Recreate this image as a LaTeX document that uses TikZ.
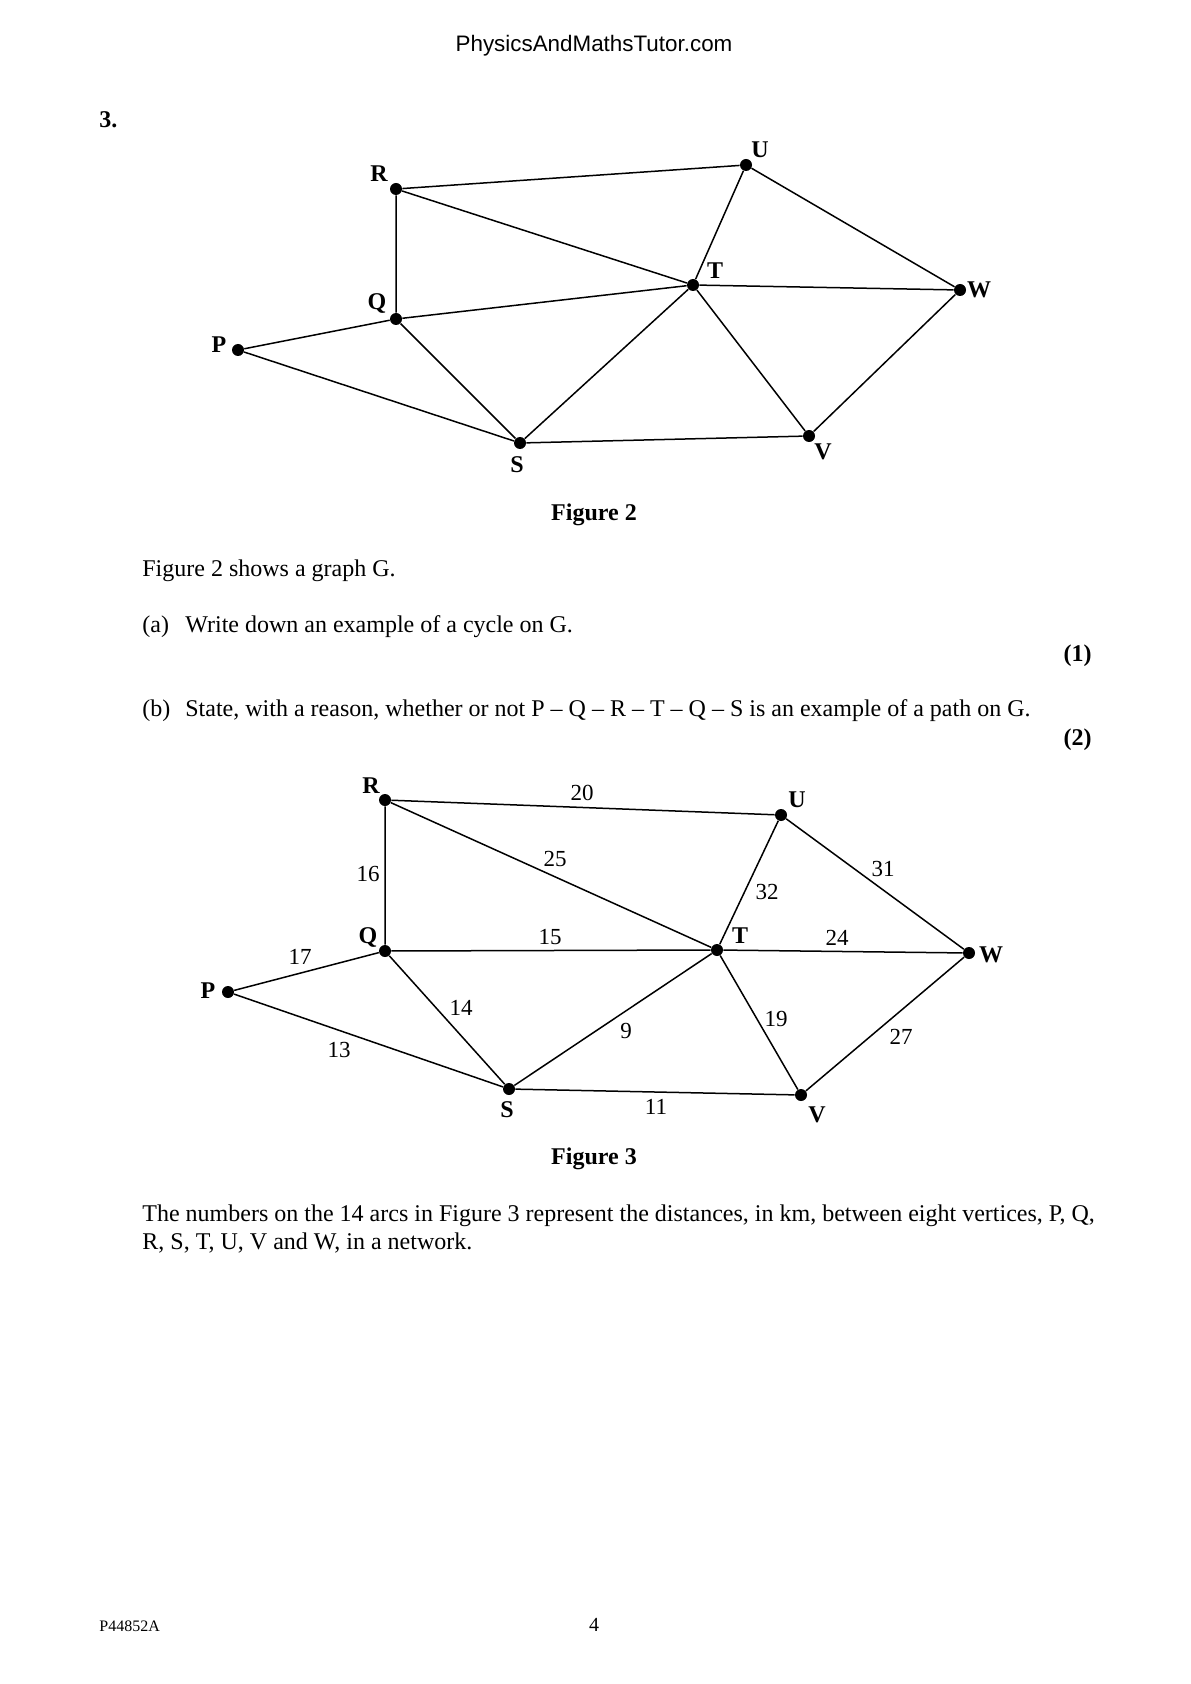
\documentclass[tikz,border=0pt]{standalone}
\usepackage{fontspec}
\setmainfont{Liberation Serif}
\newfontfamily\hdrfont{Liberation Sans}
\begin{document}
\begin{tikzpicture}[x=0.5pt,y=-0.5pt,
  dot/.style={circle,fill=black,inner sep=0pt,minimum size=6pt},
  edge/.style={line width=0.75pt},
  vlab/.style={font=\bfseries\fontsize{12}{14}\selectfont,inner sep=0pt},
  wlab/.style={font=\fontsize{11.5}{14}\selectfont,inner sep=0pt},
  txt/.style={font=\fontsize{12}{14}\selectfont,inner sep=0pt,anchor=base west},
  rtxt/.style={font=\bfseries\fontsize{12}{14}\selectfont,inner sep=0pt,anchor=base east},
  figcap/.style={font=\bfseries\fontsize{12}{14}\selectfont,inner sep=0pt,anchor=base}]
\useasboundingbox[fill=white] (0,0) rectangle (1190,1684);
% header
\node[font=\hdrfont\fontsize{11.2}{14}\selectfont,inner sep=0pt,anchor=base] (hdr) at (594,52) {PhysicsAndMathsTutor.com};
\node[font=\bfseries\fontsize{12}{14}\selectfont,inner sep=0pt,anchor=base west] (qn) at (99,128) {3.};
% Figure 2
\node[dot] (aR) at (396,189) {};
\node[dot] (aU) at (746,165) {};
\node[dot] (aT) at (693,285) {};
\node[dot] (aW) at (960,290) {};
\node[dot] (aQ) at (396,319) {};
\node[dot] (aP) at (238,350) {};
\node[dot] (aS) at (520,443) {};
\node[dot] (aV) at (809,436) {};
\draw[edge] (aR) -- (aU) (aR) -- (aT) (aR) -- (aQ) (aU) -- (aT) (aU) -- (aW)
  (aT) -- (aW) (aQ) -- (aT) (aP) -- (aQ) (aP) -- (aS) (aQ) -- (aS)
  (aS) -- (aT) (aT) -- (aV) (aS) -- (aV) (aV) -- (aW);
\node[vlab] (laR) at (379,174) {R};
\node[vlab] (laU) at (760,150) {U};
\node[vlab] (laT) at (715,271) {T};
\node[vlab] (laW) at (979,290) {W};
\node[vlab] (laQ) at (377,304) {Q};
\node[vlab] (laP) at (219,345) {P};
\node[vlab] (laS) at (517,465) {S};
\node[vlab] (laV) at (823,452) {V};
\node[figcap] (cap2) at (594,520) {Figure 2};
% text
\node[txt] (t1) at (142,576) {Figure 2 shows a graph G.};
\node[txt] (t2) at (142,632) {(a)};
\node[txt] (t2b) at (185,632) {Write down an example of a cycle on G.};
\node[rtxt] (m1) at (1092,661) {(1)};
\node[txt] (t3) at (142,716) {(b)};
\node[txt] (t3b) at (185,716) {State, with a reason, whether or not P -- Q -- R -- T -- Q -- S is an example of a path on G.};
\node[rtxt] (m2) at (1092,745) {(2)};
% Figure 3
\node[dot] (bR) at (385,800) {};
\node[dot] (bU) at (781,815) {};
\node[dot] (bT) at (717,950) {};
\node[dot] (bW) at (969,953) {};
\node[dot] (bQ) at (385,951) {};
\node[dot] (bP) at (228,992) {};
\node[dot] (bS) at (509,1089) {};
\node[dot] (bV) at (801,1095) {};
\draw[edge] (bR) -- (bU) (bR) -- (bT) (bR) -- (bQ) (bU) -- (bT) (bU) -- (bW)
  (bT) -- (bW) (bQ) -- (bT) (bP) -- (bQ) (bP) -- (bS) (bQ) -- (bS)
  (bS) -- (bT) (bT) -- (bV) (bS) -- (bV) (bV) -- (bW);
\node[vlab] (lbR) at (371,786) {R};
\node[vlab] (lbU) at (797,800) {U};
\node[vlab] (lbT) at (740,936) {T};
\node[vlab] (lbW) at (991,955) {W};
\node[vlab] (lbQ) at (368,937) {Q};
\node[vlab] (lbP) at (208,991) {P};
\node[vlab] (lbS) at (507,1110) {S};
\node[vlab] (lbV) at (817,1115) {V};
\node[wlab] (w20) at (582,793) {20};
\node[wlab] (w25) at (555,859) {25};
\node[wlab] (w16) at (368,874) {16};
\node[wlab] (w32) at (767,892) {32};
\node[wlab] (w31) at (883,869) {31};
\node[wlab] (w15) at (550,937) {15};
\node[wlab] (w24) at (837,938) {24};
\node[wlab] (w17) at (300,957) {17};
\node[wlab] (w14) at (461,1008) {14};
\node[wlab] (w9) at (626,1031) {9};
\node[wlab] (w19) at (776,1019) {19};
\node[wlab] (w27) at (901,1037) {27};
\node[wlab] (w13) at (339,1050) {13};
\node[wlab] (w11) at (656,1107) {11};
\node[figcap] (cap3) at (594,1164) {Figure 3};
\node[txt] (t4) at (142,1221) {The numbers on the 14 arcs in Figure 3 represent the distances, in km, between eight vertices, P, Q,};
\node[txt] (t5) at (142,1249) {R, S, T, U, V and W, in a network.};
% footer
\node[font=\fontsize{8}{10}\selectfont,inner sep=0pt,anchor=base west] (ft) at (99,1631) {P44852A};
\node[font=\fontsize{10}{12}\selectfont,inner sep=0pt,anchor=base] (pg) at (594,1631) {4};
\end{tikzpicture}
\end{document}
